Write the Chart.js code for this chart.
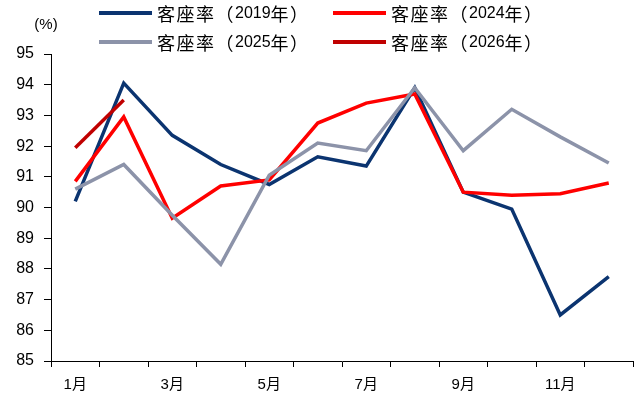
<!DOCTYPE html>
<html>
<head>
<meta charset="utf-8">
<script src="https://cdn.jsdelivr.net/npm/chart.js@4"></script>
<style>
  html, body { margin: 0; padding: 0; background: #fff; }
  #wrap { width: 641px; height: 400px; position: relative; }
</style>
</head>
<body>
<div id="wrap"><canvas id="lineChart"></canvas></div>
<script>
// month labels (only odd months are shown on the axis)
const months = ['1月', '2月', '3月', '4月', '5月', '6月', '7月', '8月', '9月', '10月', '11月', '12月'];

// load factor, %
const rate2019 = [90.2, 94.05, 92.35, 91.4, 90.75, 91.65, 91.35, 93.9, 90.5, 89.95, 86.5, 87.75];
const rate2024 = [90.85, 92.95, 89.65, 90.7, 90.9, 92.75, 93.4, 93.7, 90.5, 90.4, 90.45, 90.8];
const rate2025 = [90.6, 91.4, 89.75, 88.15, 91.05, 92.1, 91.85, 93.9, 91.85, 93.2, 92.3, 91.45];
const rate2026 = [91.95, 93.5];

const seriesNames = ['客座率（2019年）', '客座率（2024年）', '客座率（2025年）', '客座率（2026年）'];
const yTicks = { min: 85, max: 95, step: 1 };

const FONT = '"Liberation Sans", Arial, "Noto Sans CJK SC", sans-serif';
const CJK_FONT = '"Noto Sans CJK SC", sans-serif';

// draws a label with latin runs in Arial-like font and CJK runs a bit larger / looser
function drawMixedText(ctx, text, x, y) {
    const runs = text.match(/[\x00-\x7f]+|[^\x00-\x7f]+/g) || [];
    runs.forEach(function (run) {
        const latin = /^[\x00-\x7f]/.test(run);
        ctx.font = latin ? '16px ' + FONT : '18px ' + CJK_FONT;
        ctx.letterSpacing = latin ? '0px' : '1.5px';
        ctx.fillText(run, x, y);
        x += ctx.measureText(run).width;
    });
    ctx.letterSpacing = '0px';
}

// legend in two rows, drawn by hand so it wraps 2 x 2 like the original
const legendPlugin = {
    id: 'twoRowLegend',
    afterDraw: function (chart) {
        const ctx = chart.ctx;
        const xs = [99, 333];
        const ys = [13, 42];
        ctx.save();
        chart.data.datasets.forEach(function (ds, i) {
            const x = xs[i % 2];
            const y = ys[Math.floor(i / 2)];
            ctx.strokeStyle = ds.borderColor;
            ctx.lineWidth = 4;
            ctx.beginPath();
            ctx.moveTo(x, y);
            ctx.lineTo(x + 53, y);
            ctx.stroke();
            ctx.fillStyle = '#000';
            ctx.textBaseline = 'middle';
            drawMixedText(ctx, ds.label, x + 58, y + 1);
        });
        // unit label
        ctx.fillStyle = '#000';
        ctx.font = '15px ' + FONT;
        ctx.textAlign = 'center';
        ctx.textBaseline = 'middle';
        ctx.fillText('(%)', 46, 25);
        ctx.restore();
    }
};

function makeLine(label, data, color, order) {
    return {
        label: label,
        data: data,
        borderColor: color,
        backgroundColor: color,
        borderWidth: 3.5,
        pointRadius: 0,
        tension: 0,
        fill: false,
        order: order
    };
}

var ctx = document.getElementById('lineChart').getContext('2d');
var lineChart = new Chart(ctx, {
    type: 'line',
    data: {
        labels: months,
        datasets: [
            makeLine(seriesNames[0], rate2019, '#0B3470', 4),
            makeLine(seriesNames[1], rate2024, '#FF0000', 3),
            makeLine(seriesNames[2], rate2025, '#8C93A9', 2),
            makeLine(seriesNames[3], rate2026, '#C00000', 1)
        ]
    },
    options: {
        responsive: true,
        maintainAspectRatio: false,
        animation: false,
        layout: { padding: { left: 0, top: 54, right: 8, bottom: 0 } },
        plugins: {
            legend: { display: false },
            tooltip: { enabled: false }
        },
        scales: {
            x: {
                offset: true,
                grid: {
                    offset: true,
                    drawOnChartArea: false,
                    drawTicks: true,
                    tickLength: 6,
                    color: '#000'
                },
                border: { color: '#000', width: 1 },
                ticks: {
                    autoSkip: false,
                    maxRotation: 0,
                    padding: 9,
                    color: '#000',
                    font: { size: 15, family: FONT },
                    callback: function (value, index) {
                        return index % 2 === 0 ? months[index] : '';
                    }
                },
                afterFit: function (scale) { scale.height = 39; }
            },
            y: {
                min: yTicks.min,
                max: yTicks.max,
                grid: {
                    drawOnChartArea: false,
                    drawTicks: true,
                    tickLength: 7,
                    color: '#000'
                },
                border: { color: '#000', width: 1 },
                ticks: {
                    stepSize: yTicks.step,
                    padding: 10,
                    color: '#000',
                    font: { size: 16, family: FONT }
                },
                afterFit: function (scale) { scale.width = 51; }
            }
        }
    },
    plugins: [legendPlugin]
});
</script>
</body>
</html>
